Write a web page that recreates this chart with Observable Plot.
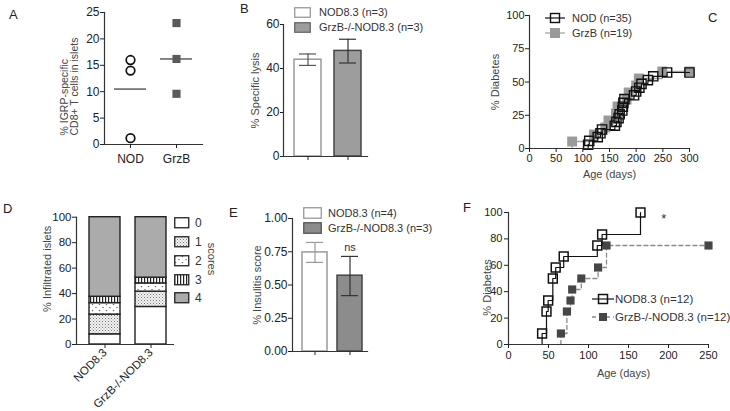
<!DOCTYPE html>
<html>
<head>
<meta charset="utf-8">
<script src="https://cdn.jsdelivr.net/npm/d3@7"></script>
<script src="https://cdn.jsdelivr.net/npm/@observablehq/plot@0.6"></script>
<style>
  html, body { margin: 0; padding: 0; background: #fff; }
  #root { position: relative; width: 730px; height: 411px; overflow: hidden; background: #fff;
          font-family: "Liberation Sans", Arial, Helvetica, sans-serif; color: #222; }
  .plab { position: absolute; font-size: 13px; color: #222; line-height: 1; }
  .leg { position: absolute; font-size: 11px; color: #333; white-space: nowrap; line-height: 1; }
</style>
</head>
<body>
<div id="root">
  <svg width="0" height="0" style="position:absolute;left:0;top:0">
    <defs>
      <pattern id="pat1" patternUnits="userSpaceOnUse" width="3" height="3">
        <rect width="3" height="3" fill="#f4f4f4"></rect>
        <rect x="0" y="0" width="1" height="1" fill="#777"></rect>
        <rect x="1.5" y="1.5" width="1" height="1" fill="#999"></rect>
      </pattern>
      <pattern id="pat2" patternUnits="userSpaceOnUse" width="7" height="6">
        <rect width="7" height="6" fill="#fff"></rect>
        <path d="M0.5,1 L2.5,1 L1.5,2.6 Z" fill="#666"></path>
        <path d="M4,4 L6,4 L5,5.6 Z" fill="#666"></path>
      </pattern>
      <pattern id="pat3" patternUnits="userSpaceOnUse" width="3" height="3">
        <rect width="3" height="3" fill="#fff"></rect>
        <rect x="0" y="0" width="1.2" height="3" fill="#222"></rect>
      </pattern>
    </defs>
  </svg>
</div>
<script>
// ---------------- DATA ----------------
// Panel A
const aGroups = ["NOD", "GrzB"];
const aNOD = [16, 14, 1.2];
const aGrzB = [23, 16.2, 9.6];
const aMeans = [10.5, 16.2];
const aYTicks = [0, 5, 10, 15, 20, 25];
const aYLabel = "% IGRP-specific\nCD8+ T cells in islets";

// Panel B
const bGroups = ["NOD8.3 (n=3)", "GrzB-/-NOD8.3 (n=3)"];
const bMeans = [44, 48];
const bLow = [41.4, 42.5];
const bHigh = [46.6, 53.3];
const bYTicks = [0, 20, 40, 60];

// Panel C (cumulative incidence, % diabetes vs age in days)
const cNODLabel = "NOD (n=35)";
const cGrzBLabel = "GrzB (n=19)";
const cNODDays = [110, 112, 128, 133, 136, 160, 163, 167, 169, 174, 175, 176, 178, 196, 200, 206, 210, 222, 232, 258, 300];
const cNODPct  = [2.86, 5.71, 8.57, 11.43, 14.29, 17.14, 20, 22.86, 25.71, 28.57, 31.43, 34.29, 37.14, 40, 42.86, 45.71, 48.57, 51.43, 54.29, 57.14, 57.14];
const cGrzBDays = [80, 121, 142, 148, 162, 165, 182, 186, 200, 205, 249, 300];
const cGrzBPct  = [5.26, 10.53, 15.79, 21.05, 26.32, 31.58, 36.84, 42.11, 47.37, 52.63, 57.89, 57.89];
const cXTicks = [0, 50, 100, 150, 200, 250, 300];
const cYTicks = [0, 25, 50, 75, 100];

// Panel D (stacked insulitis scores)
const dGroups = ["NOD8.3", "GrzB-/-NOD8.3"];
const dScores = ["0", "1", "2", "3", "4"];
const dNOD  = [8, 15.5, 9, 5, 62.5];
const dGrzB = [29.5, 12, 6.5, 4.5, 47.5];
const dYTicks = [0, 20, 40, 60, 80, 100];

// Panel E
const eGroups = ["NOD8.3 (n=4)", "GrzB-/-NOD8.3 (n=3)"];
const eMeans = [0.745, 0.57];
const eLow = [0.67, 0.42];
const eHigh = [0.82, 0.715];
const eYTicks = [0, 0.25, 0.5, 0.75, 1];

// Panel F
const fNODLabel = "NOD8.3 (n=12)";
const fGrzBLabel = "GrzB-/-NOD8.3 (n=12)";
const fNODDays = [42, 47.5, 49.6, 55.4, 59, 69, 111, 117, 165];
const fNODPct  = [8.33, 25, 33.33, 50, 58.33, 66.67, 75, 83.33, 100];
const fGrzBDays = [65.5, 73, 77.5, 79.6, 91, 112, 122.5, 250];
const fGrzBPct  = [8.33, 25, 33.33, 41.67, 50, 58.33, 75, 75];
const fXTicks = [0, 50, 100, 150, 200, 250];
const fYTicks = [0, 20, 40, 60, 80, 100];

// ---------------- HELPERS ----------------
const FONT = '"Liberation Sans", Arial, Helvetica, sans-serif';
const root = document.getElementById("root");
function place(el, left, top) {
  el.style.position = "absolute";
  el.style.left = left + "px";
  el.style.top = top + "px";
  root.appendChild(el);
  return el;
}
function st(fs) {
  return { fontFamily: FONT, fontSize: fs + "px", color: "#222", background: "transparent", overflow: "visible" };
}
function div(cls, html, left, top, extra) {
  const d = document.createElement("div");
  d.className = cls;
  d.innerHTML = html;
  d.style.left = left + "px";
  d.style.top = top + "px";
  if (extra) Object.assign(d.style, extra);
  root.appendChild(d);
  return d;
}
const AX = "#333";

// ---------------- PANEL A ----------------
{
  const nod = aNOD.map(v => ({ g: "NOD", v }));
  const grz = aGrzB.map(v => ({ g: "GrzB", v }));
  const means = aGroups.map((g, i) => ({ g, v: aMeans[i] }));
  const p = Plot.plot({
    width: 230, height: 180, marginLeft: 104, marginRight: 28, marginTop: 12, marginBottom: 36,
    style: st(12),
    x: { type: "band", domain: aGroups, paddingInner: 0.3, paddingOuter: 0.2 },
    y: { domain: [0, 25] },
    marks: [
      Plot.frame({ anchor: "left", stroke: AX, strokeWidth: 1.2 }),
      Plot.frame({ anchor: "bottom", stroke: AX, strokeWidth: 1.2 }),
      Plot.axisY({ ticks: aYTicks, tickSize: 4, tickPadding: 1, label: null }),
      Plot.axisX({ tickSize: 4, tickPadding: 6, label: null }),
      Plot.tickY(means, { x: "g", y: "v", stroke: "#444", strokeWidth: 1.3 }),
      Plot.dot(nod, { x: "g", y: "v", r: 4.3, stroke: "#111", strokeWidth: 1.7, fill: "white" }),
      Plot.dot(grz, { x: "g", y: "v", symbol: "square", r: 4.6, fill: "#5a5a5a" }),
      Plot.text([aYLabel], { text: d => d, frameAnchor: "top-left", dx: -35, dy: 123, rotate: -90,
        textAnchor: "start", lineAnchor: "middle", fontSize: 10.5, fill: "#444" })
    ]
  });
  place(p, 0, 0);
}

// ---------------- PANEL B ----------------
{
  const data = bGroups.map((g, i) => ({ g, v: bMeans[i], lo: bLow[i], hi: bHigh[i],
    fill: i === 0 ? "#ffffff" : "#9d9d9d", stroke: i === 0 ? "#9a9a9a" : "#444", err: i === 0 ? "#555" : "#333" }));
  const p = Plot.plot({
    width: 140, height: 180, marginLeft: 53, marginRight: 3, marginTop: 24, marginBottom: 24,
    style: st(12),
    x: { type: "band", domain: bGroups, paddingInner: 0.32, paddingOuter: 0.2, align: 0.65 },
    y: { domain: [0, 60] },
    color: { type: "identity" },
    marks: [
      Plot.barY(data, { x: "g", y: "v", fill: d => d.fill, stroke: d => d.stroke, strokeWidth: 1.5 }),
      Plot.ruleX(data, { x: "g", y1: "lo", y2: "hi", stroke: d => d.err, strokeWidth: 1.2 }),
      Plot.tickY(data, { x: "g", y: "lo", stroke: d => d.err, strokeWidth: 1.2, insetLeft: 5, insetRight: 5 }),
      Plot.tickY(data, { x: "g", y: "hi", stroke: d => d.err, strokeWidth: 1.2, insetLeft: 5, insetRight: 5 }),
      Plot.frame({ anchor: "left", stroke: AX, strokeWidth: 1.2 }),
      Plot.frame({ anchor: "bottom", stroke: AX, strokeWidth: 1.2 }),
      Plot.axisY({ ticks: bYTicks, tickSize: 3, tickPadding: 1, label: null }),
      Plot.axisX({ tickSize: 4, tickFormat: () => "", label: null }),
      Plot.text(["% Specific lysis"], { text: d => d, frameAnchor: "left", dx: -28, dy: 0, rotate: -90,
        textAnchor: "middle", fontSize: 11, fill: "#444" })
    ]
  });
  place(p, 230, 0);
  // legend
  div("leg", `<svg width="17" height="11" style="vertical-align:middle"><rect x="0.75" y="0.75" width="15.5" height="9.5" fill="#fff" stroke="#999" stroke-width="1.3"/></svg>`, 294, 6);
  div("leg", bGroups[0], 319, 7);
  div("leg", `<svg width="17" height="11" style="vertical-align:middle"><rect x="0.75" y="0.75" width="15.5" height="9.5" fill="#9d9d9d" stroke="#666" stroke-width="1.3"/></svg>`, 294, 21);
  div("leg", bGroups[1], 319, 22);
}

// ---------------- PANEL C ----------------
{
  const nod = cNODDays.map((x, i) => ({ x, y: cNODPct[i] }));
  const grz = cGrzBDays.map((x, i) => ({ x, y: cGrzBPct[i] }));
  const nodLine = [{ x: cNODDays[0], y: 0 }, ...nod];
  const grzLine = [{ x: cGrzBDays[0], y: 0 }, ...grz];
  const p = Plot.plot({
    width: 260, height: 190, marginLeft: 59, marginRight: 41, marginTop: 15, marginBottom: 42,
    style: st(11),
    x: { domain: [0, 300] },
    y: { domain: [0, 100] },
    marks: [
      Plot.line(grzLine, { x: "x", y: "y", curve: "step-after", stroke: "#a0a0a0", strokeWidth: 1.3 }),
      Plot.dot(grz, { x: "x", y: "y", symbol: "square", r: 5.6, fill: "#9a9a9a" }),
      Plot.line(nodLine, { x: "x", y: "y", curve: "step-after", stroke: "#111", strokeWidth: 1.2 }),
      Plot.dot(nod, { x: "x", y: "y", symbol: "square", r: 5.2, fill: "none", stroke: "#111", strokeWidth: 1.4 }),
      Plot.frame({ anchor: "left", stroke: AX, strokeWidth: 1.2 }),
      Plot.frame({ anchor: "bottom", stroke: AX, strokeWidth: 1.2 }),
      Plot.axisY({ ticks: cYTicks, tickSize: 4, tickPadding: 1, label: null }),
      Plot.axisX({ ticks: cXTicks, tickSize: 4, tickPadding: 2, label: null }),
      Plot.text(["Age (days)"], { text: d => d, frameAnchor: "bottom", dy: 26, lineAnchor: "middle", fontSize: 11, fill: "#444" }),
      Plot.text(["% Diabetes"], { text: d => d, frameAnchor: "left", dx: -34, dy: 0, rotate: -90,
        textAnchor: "middle", fontSize: 11, fill: "#444" })
    ]
  });
  place(p, 470, 0);
  div("leg", `<svg width="22" height="12" style="vertical-align:middle"><line x1="1" y1="6" x2="21" y2="6" stroke="#111" stroke-width="1.2"/><rect x="6.5" y="1.5" width="9" height="9" fill="none" stroke="#111" stroke-width="1.4"/></svg>`, 544, 12);
  div("leg", cNODLabel, 572, 13);
  div("leg", `<svg width="22" height="12" style="vertical-align:middle"><line x1="1" y1="6" x2="21" y2="6" stroke="#a0a0a0" stroke-width="1.2"/><rect x="6" y="1" width="10" height="10" fill="#9a9a9a"/></svg>`, 544, 27);
  div("leg", cGrzBLabel, 572, 28);
}

// ---------------- PANEL D ----------------
{
  const pats = { "0": "#ffffff", "1": "url(#pat1)", "2": "url(#pat2)", "3": "url(#pat3)", "4": "#ababab" };
  const data = [];
  dGroups.forEach((g, gi) => {
    const vals = gi === 0 ? dNOD : dGrzB;
    dScores.forEach((s, si) => data.push({ g, s, v: vals[si], pat: pats[s] }));
  });
  const p = Plot.plot({
    width: 230, height: 216, marginLeft: 76, marginRight: 57, marginTop: 21.7, marginBottom: 67,
    style: st(11.5),
    x: { type: "band", domain: dGroups, paddingInner: 0.33, paddingOuter: 0.2, align: 0.63 },
    y: { domain: [0, 100] },
    color: { type: "identity" },
    marks: [
      Plot.barY(data, { x: "g", y: "v", z: "s", fill: d => d.pat, stroke: "#222", strokeWidth: 1.4 }),
      Plot.frame({ anchor: "left", stroke: AX, strokeWidth: 1.2 }),
      Plot.frame({ anchor: "bottom", stroke: AX, strokeWidth: 1.2 }),
      Plot.axisY({ ticks: dYTicks, tickSize: 4, tickPadding: 1, label: null }),
      Plot.axisX({ tickSize: 4, tickPadding: 2, tickRotate: -45, label: null }),
      Plot.text(["% Infiltrated islets"], { text: d => d, frameAnchor: "left", dx: -29, dy: -12, rotate: -90,
        textAnchor: "middle", fontSize: 11, fill: "#444" })
    ]
  });
  place(p, 0, 195);
  const ys = [223, 242, 261, 280, 298];
  dScores.forEach((s, i) => {
    div("leg", `<svg width="16" height="12"><rect x="0.75" y="0.75" width="14" height="10" fill="${pats[s]}" stroke="#222" stroke-width="1.3"/></svg>`, 174, ys[i] - 6);
    div("leg", s, 195, ys[i] - 6, { fontSize: "12px" });
  });
  div("leg", "scores", 211, 259, { transform: "translate(-50%,-50%) rotate(90deg)", fontSize: "11px", color: "#444" });
}

// ---------------- PANEL E ----------------
{
  const data = eGroups.map((g, i) => ({ g, v: eMeans[i], lo: eLow[i], hi: eHigh[i],
    fill: i === 0 ? "#ffffff" : "#8c8c8c", stroke: i === 0 ? "#9a9a9a" : "#444", err: i === 0 ? "#999" : "#333" }));
  const p = Plot.plot({
    width: 140, height: 216, marginLeft: 62, marginRight: 3, marginTop: 23, marginBottom: 60,
    style: st(12),
    x: { type: "band", domain: eGroups, paddingInner: 0.3, paddingOuter: 0.22, align: 0.65 },
    y: { domain: [0, 1] },
    color: { type: "identity" },
    marks: [
      Plot.barY(data, { x: "g", y: "v", fill: d => d.fill, stroke: d => d.stroke, strokeWidth: 1.5 }),
      Plot.ruleX(data, { x: "g", y1: "lo", y2: "hi", stroke: d => d.err, strokeWidth: 1.2 }),
      Plot.tickY(data, { x: "g", y: "lo", stroke: d => d.err, strokeWidth: 1.2, insetLeft: 4, insetRight: 4 }),
      Plot.tickY(data, { x: "g", y: "hi", stroke: d => d.err, strokeWidth: 1.2, insetLeft: 4, insetRight: 4 }),
      Plot.text(data.slice(1), { x: "g", y: "hi", text: () => "ns", dy: -9, fontSize: 11, fill: "#333" }),
      Plot.frame({ anchor: "left", stroke: AX, strokeWidth: 1.2 }),
      Plot.frame({ anchor: "bottom", stroke: AX, strokeWidth: 1.2 }),
      Plot.axisY({ ticks: eYTicks, tickFormat: d3.format(".2f"), tickSize: 4, tickPadding: 1, label: null }),
      Plot.axisX({ tickSize: 4, tickFormat: () => "", label: null }),
      Plot.text(["% Insulitis score"], { text: d => d, frameAnchor: "left", dx: -35, dy: 0, rotate: -90,
        textAnchor: "middle", fontSize: 11, fill: "#444" })
    ]
  });
  place(p, 230, 195);
  div("leg", `<svg width="19" height="12" style="vertical-align:middle"><rect x="0.75" y="0.75" width="17.5" height="10.5" fill="#fff" stroke="#999" stroke-width="1.3"/></svg>`, 303, 207);
  div("leg", eGroups[0], 328, 208);
  div("leg", `<svg width="19" height="12" style="vertical-align:middle"><rect x="0.75" y="0.75" width="17.5" height="10.5" fill="#8c8c8c" stroke="#555" stroke-width="1.3"/></svg>`, 303, 222);
  div("leg", eGroups[1], 328, 223);
}

// ---------------- PANEL F ----------------
{
  const nod = fNODDays.map((x, i) => ({ x, y: fNODPct[i] }));
  const grz = fGrzBDays.map((x, i) => ({ x, y: fGrzBPct[i] }));
  const nodLine = [{ x: fNODDays[0], y: 0 }, ...nod];
  const grzLine = [{ x: fGrzBDays[0], y: 0 }, ...grz];
  const p = Plot.plot({
    width: 260, height: 216, marginLeft: 38, marginRight: 22, marginTop: 17, marginBottom: 67,
    style: st(11),
    x: { domain: [0, 250] },
    y: { domain: [0, 100] },
    marks: [
      Plot.line(grzLine, { x: "x", y: "y", curve: "step-after", stroke: "#8a8a8a", strokeWidth: 1.3, strokeDasharray: "4,3" }),
      Plot.dot(grz, { x: "x", y: "y", symbol: "square", r: 4.6, fill: "#464646" }),
      Plot.line(nodLine, { x: "x", y: "y", curve: "step-after", stroke: "#111", strokeWidth: 1.2 }),
      Plot.dot(nod, { x: "x", y: "y", symbol: "square", r: 5, fill: "none", stroke: "#111", strokeWidth: 1.5 }),
      Plot.text(["*"], { text: d => d, x: () => 194, y: () => 95, fontSize: 13, fill: "#333" }),
      Plot.frame({ anchor: "left", stroke: AX, strokeWidth: 1.2 }),
      Plot.frame({ anchor: "bottom", stroke: AX, strokeWidth: 1.2 }),
      Plot.axisY({ ticks: fYTicks, tickSize: 4, tickPadding: 2, label: null }),
      Plot.axisX({ ticks: fXTicks, tickSize: 4, tickPadding: 3, label: null }),
      Plot.text(["Age (days)"], { text: d => d, frameAnchor: "bottom", dx: 15, dy: 29, lineAnchor: "middle", fontSize: 11, fill: "#444" }),
      Plot.text(["% Diabetes"], { text: d => d, frameAnchor: "left", dx: -21, dy: 9, rotate: -90,
        textAnchor: "middle", fontSize: 11, fill: "#444" })
    ]
  });
  place(p, 470, 195);
  div("leg", `<svg width="24" height="12" style="vertical-align:middle"><line x1="1" y1="6" x2="23" y2="6" stroke="#111" stroke-width="1.2"/><rect x="7.5" y="1.5" width="9" height="9" fill="none" stroke="#111" stroke-width="1.5"/></svg>`, 591, 293);
  div("leg", fNODLabel, 615, 294, { fontSize: "11.5px" });
  div("leg", `<svg width="24" height="12" style="vertical-align:middle"><line x1="1" y1="6" x2="23" y2="6" stroke="#8a8a8a" stroke-width="1.3" stroke-dasharray="4,3"/><rect x="8" y="2" width="8" height="8" fill="#464646"/></svg>`, 591, 311);
  div("leg", fGrzBLabel, 615, 312, { fontSize: "11.5px" });
}

// ---------------- PANEL LETTERS ----------------
div("plab", "A", 9, 8);
div("plab", "B", 240, 2);
div("plab", "C", 708, 11);
div("plab", "D", 3, 202);
div("plab", "E", 229, 206);
div("plab", "F", 463, 201);
</script>
</body>
</html>
